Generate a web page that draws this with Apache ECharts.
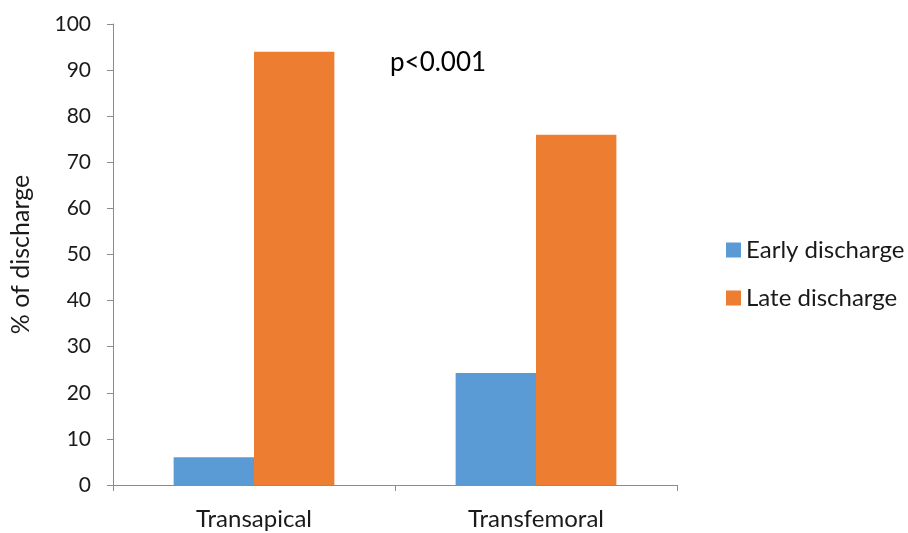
<!DOCTYPE html>
<html>
<head>
<meta charset="utf-8">
<script src="https://cdn.jsdelivr.net/npm/echarts@6/dist/echarts.min.js"></script>
<style>html,body{margin:0;padding:0;background:#fff}#c{width:908px;height:533px}</style>
</head>
<body>
<div id="c"></div>
<script>
const categories = ["Transapical", "Transfemoral"];
const earlyDischarge = [6, 24.3];
const lateDischarge = [94, 76];
const yTicks = { min: 0, max: 100, interval: 10 };
const seriesNames = ["Early discharge", "Late discharge"];

const FONT = "Lato";
const chart = echarts.init(document.getElementById('c'));
chart.setOption({
  animation: false,
  backgroundColor: '#fff',
  grid: { left: 110, top: 24, right: 231, bottom: 48 },
  legend: {
    orient: 'vertical',
    left: 721, top: 233,
    itemWidth: 15, itemHeight: 15, itemGap: 24,
    icon: 'rect',
    textStyle: { fontFamily: FONT, fontSize: 24, color: '#1a1a1a', padding: [0, 0, 0, 0] },
    data: seriesNames
  },
  xAxis: {
    type: 'category',
    data: categories,
    axisLine: { lineStyle: { color: '#8c8c8c', width: 1 } },
    axisTick: { show: true, alignWithLabel: false, length: 6, lineStyle: { color: '#8c8c8c' } },
    axisLabel: { fontFamily: FONT, fontSize: 24, color: '#1a1a1a', margin: 22 }
  },
  yAxis: {
    type: 'value',
    min: yTicks.min, max: yTicks.max, interval: yTicks.interval,
    name: '% of discharge',
    nameLocation: 'middle',
    nameGap: 80,
    nameTextStyle: { fontFamily: FONT, fontSize: 25, color: '#1a1a1a' },
    axisLine: { show: true, lineStyle: { color: '#8c8c8c', width: 1 } },
    axisTick: { show: true, length: 6, lineStyle: { color: '#8c8c8c' } },
    splitLine: { show: false },
    axisLabel: { fontFamily: FONT, fontSize: 21, color: '#1a1a1a', margin: 22 }
  },
  series: [
    { name: seriesNames[0], type: 'bar', data: earlyDischarge, itemStyle: { color: '#5B9BD5' }, barGap: '0%', barCategoryGap: '43%' },
    { name: seriesNames[1], type: 'bar', data: lateDischarge, itemStyle: { color: '#ED7D31' }, barGap: '0%', barCategoryGap: '43%' }
  ],
  graphic: [{
    type: 'text', left: 390, top: 50,
    style: { text: 'p<0.001', fontFamily: FONT, fontSize: 26, fill: '#000' }
  }]
});
</script>
</body>
</html>
